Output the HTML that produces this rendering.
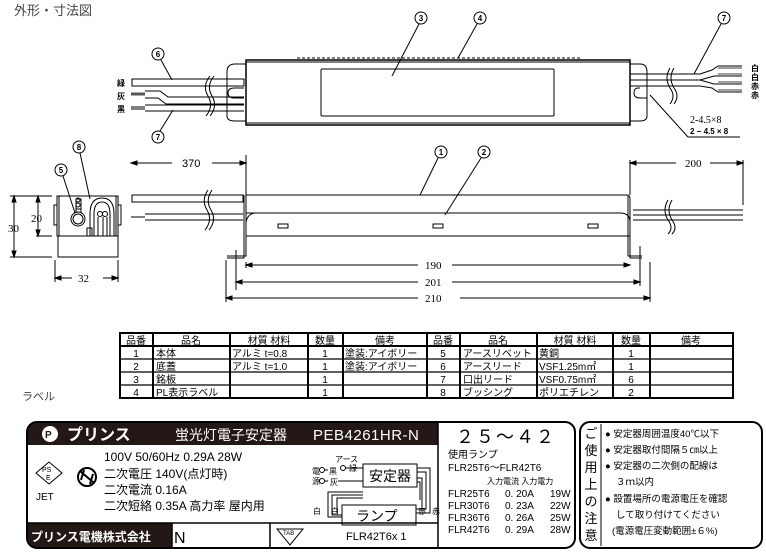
<!DOCTYPE html>
<html><head><meta charset="utf-8"><style>
body{margin:0;background:#fff;width:766px;height:553px;overflow:hidden;font-family:"Liberation Sans","Noto Sans CJK JP",sans-serif}
svg{position:absolute;left:0;top:0}
text{font-family:"Liberation Sans","Noto Sans CJK JP",sans-serif;fill:#000}
.s{font-family:"Liberation Serif","Noto Serif CJK SC",serif}
text.w{fill:#fff !important}
text.g{fill:#444 !important}
text.d{fill:#231815 !important}
</style></head><body>
<svg width="766" height="553" viewBox="0 0 766 553" fill="none" stroke="#000" stroke-width="1">
<text x="14" y="15" font-size="13" stroke="none" class="g">外形・寸法図</text>

<!-- TOP VIEW -->
<line x1="297" y1="58" x2="580" y2="58" stroke-dasharray="3,2"/>
<rect x="246" y="60" width="384" height="65" stroke-width="1.5"/>
<line x1="246" y1="62" x2="630" y2="62"/>
<line x1="246" y1="123" x2="630" y2="123"/>
<rect x="321" y="69" width="233" height="47" rx="1"/>
<path d="M246 64 L235 64 Q227 64 227 72 L227 116 Q227 121 235 121 L246 121"/>
<path d="M630 64 L640 64 Q647 64 647 72 L647 116 Q647 121 640 121 L630 121"/>
<rect x="132" y="79" width="112" height="7"/>
<path d="M244 88 L234 88 Q228 88 228 93 Q228 98 234 98 L244 98"/>
<path d="M131 93 L145 93 M131 94 L145 94 M131 95 L145 95" stroke="#555"/>
<path d="M145 91 L160 91 L168 97 L244 97 M145 98 L158 98 L166 104 L244 104"/>
<path d="M131 107 L145 107 M131 109 L145 109"/>
<path d="M145 105 L244 105 M145 111 L244 111"/>
<path d="M210 76 Q202 86 208 96 Q214 106 206 116 M214 76 Q206 86 212 96 Q218 106 210 116"/>
<!-- right wires -->
<path d="M630 74 L700 74 M630 80 L700 80 M630 86 L700 86"/>
<path d="M640 88 L638 88 Q634 88 634 93 Q634 98 640 98 L647 98"/>
<path d="M670 68 Q664 78 670 88 Q676 96 670 104 M674 68 Q668 78 674 88 Q680 96 674 104"/>
<path d="M700 74 L712 70 L718 66 L742 66 M700 80 L714 76 L742 76 M700 80 L714 84 L742 84 M700 86 L712 88 L718 92 L742 92"/>
<path d="M718 68 L742 68 M718 74 L742 74 M718 82 L742 82 M718 90 L742 90" stroke-width="0.7"/>
<text x="751" y="71" font-size="8" stroke="none" font-weight="bold">白</text>
<text x="751" y="80" font-size="8" stroke="none" font-weight="bold">白</text>
<text x="751" y="89" font-size="8" stroke="none" font-weight="bold">赤</text>
<text x="751" y="98" font-size="8" stroke="none" font-weight="bold">赤</text>
<text x="117" y="86" font-size="8" stroke="none" font-weight="bold">緑</text>
<text x="117" y="99" font-size="8" stroke="none" font-weight="bold">灰</text>
<text x="117" y="112" font-size="8" stroke="none" font-weight="bold">黒</text>
<text x="690" y="123" font-size="10" stroke="none" class="s">2-4.5×8</text>
<text x="690" y="134" font-size="8" stroke="none" font-weight="bold">2 − 4.5 × 8</text>
<path d="M740 137 L688 137 L650 95"/>
<!-- callouts -->
<g stroke-width="1">
<circle cx="421" cy="18" r="6"/><line x1="419" y1="24" x2="392" y2="76"/>
<circle cx="480" cy="18" r="6"/><line x1="477" y1="24" x2="458" y2="58"/>
<circle cx="724" cy="18" r="6"/><line x1="721" y1="24" x2="694" y2="74"/>
<circle cx="158" cy="54" r="6"/><line x1="161" y1="60" x2="172" y2="80"/>
<circle cx="158" cy="137" r="6"/><line x1="160" y1="131" x2="173" y2="110"/>
<circle cx="79" cy="147" r="6"/><line x1="80" y1="153" x2="90" y2="199"/>
<circle cx="61" cy="170" r="6"/><line x1="63" y1="176" x2="75" y2="213"/>
<circle cx="441" cy="152" r="6"/><line x1="438" y1="158" x2="420" y2="195"/>
<circle cx="484" cy="152" r="6"/><line x1="481" y1="158" x2="445" y2="215"/>
</g>
<g font-size="8" font-weight="bold" stroke="none" text-anchor="middle">
<text x="421" y="21">3</text><text x="480" y="21">4</text><text x="724" y="21">7</text>
<text x="158" y="57">6</text><text x="158" y="140">7</text><text x="79" y="150">8</text>
<text x="61" y="173">5</text><text x="441" y="155">1</text><text x="484" y="155">2</text>
</g>

<!-- SIDE VIEW -->
<path d="M131 163 L172 163 M212 163 L246 163 M246 155 L246 195"/>
<path d="M131 163 l6 -2 v4 z M246 163 l-6 -2 v4 z" fill="#000"/>
<text x="182" y="167" font-size="11" stroke="none">370</text>
<path d="M630 163 L676 163 M710 163 L743 163 M630 160 L630 195 M743 160 L743 205"/>
<path d="M630 163 l6 -2 v4 z M743 163 l-6 -2 v4 z" fill="#000"/>
<text x="685" y="167" font-size="11" stroke="none" class="s">200</text>
<path d="M246 195 L627 195 Q630 195 630 199 L630 258 L642 258 M246 213 L620 213 Q630 213 630 222 M246 236 L630 236"/>
<path d="M256 213 Q248 213 246 222"/>
<path d="M244 195 L244 258 L227 258 M246 195 L246 256 L227 256"/>
<path d="M628 196 L628 256 L642 256"/>
<rect x="278" y="224" width="10" height="4"/><rect x="433" y="224" width="10" height="4"/><rect x="588" y="224" width="10" height="4"/>
<rect x="132" y="195" width="111" height="7"/>
<path d="M131 217 L145 217 M145 214 L243 214 M145 220 L243 220"/>
<path d="M633 210 L743 210 M633 215 L743 215 M633 220 L743 220"/>
<path d="M208 190 Q201 200 207 210 Q213 220 205 230 M212 190 Q205 200 211 210 Q217 220 209 230"/>
<path d="M668 200 Q662 210 668 220 Q674 228 668 234 M672 200 Q666 210 672 220 Q678 228 672 234"/>
<!-- dims -->
<path d="M246 265 L418 265 M452 265 L625 265 M236 282 L418 282 M452 282 L637 282 M226 298 L418 298 M460 298 L648 298"/>
<path d="M236 250 L236 290 M226 260 L226 302 M640 246 L640 286 M650 262 L650 302 M246 262 L246 268"/>
<path d="M630 265 l-6 -2 v4 z M640 282 l-6 -2 v4 z M650 298 l-6 -2 v4 z M246 265 l6 -2 v4 z M236 282 l6 -2 v4 z M226 298 l6 -2 v4 z" fill="#000"/>
<text x="425" y="269" font-size="11" stroke="none" class="s">190</text>
<text x="425" y="286" font-size="11" stroke="none" class="s">201</text>
<text x="425" y="302" font-size="11" stroke="none" class="s">210</text>

<!-- END VIEW -->
<rect x="57" y="196" width="61" height="40"/>
<rect x="58" y="236" width="60" height="21"/>
<path d="M59 196 L59 236 M116 196 L116 236"/>
<rect x="54" y="205" width="3" height="20"/><rect x="118" y="205" width="3" height="20"/>
<path d="M87 236 L87 228 L92 228 L92 236"/>
<rect x="76" y="199" width="5" height="10"/>
<circle cx="78" cy="200" r="2"/><circle cx="78" cy="205" r="2"/>
<path d="M76 209 L76 213 M81 209 L81 213"/>
<circle cx="78" cy="219" r="7"/><circle cx="78" cy="219" r="5"/>
<path d="M90 236 L90 214 Q90 198 102 198 Q114 198 114 214 L114 236"/>
<path d="M94 236 L94 214 Q94 202 102 202 Q110 202 110 214 L110 236"/>
<circle cx="100" cy="214" r="2.5"/><circle cx="105" cy="214" r="2.5"/>
<path d="M98 217 L98 236 M103 217 L103 236 M107 217 L107 236"/>
<path d="M14 196 L14 257 M10 196 L52 196 M10 257 L52 257 M38 196 L38 236 M36 236 L52 236"/>
<path d="M14 196 l-2 6 h4 z M14 257 l-2 -6 h4 z M38 196 l-2 6 h4 z M38 236 l-2 -6 h4 z" fill="#000"/>
<text x="8" y="232" font-size="11" stroke="none" class="s">30</text>
<text x="31" y="222" font-size="11" stroke="none" class="s">20</text>
<path d="M55 260 L55 282 M118 260 L118 282 M55 278 L72 278 M103 278 L118 278"/>
<path d="M55 278 l6 -2 v4 z M118 278 l-6 -2 v4 z" fill="#000"/>
<text x="78" y="282" font-size="11" stroke="none" class="s">32</text>

<!-- TABLE -->
<g stroke-width="2">
<rect x="120" y="333" width="613" height="65"/>
<path d="M120 346 L733 346 M153 333 V398 M230 333 V398 M308 333 V398 M343 333 V398 M427 333 V398 M460 333 V398 M537 333 V398 M613 333 V398 M650 333 V398"/>
</g>
<path d="M120 359 L733 359 M120 372 L733 372 M120 385 L733 385" stroke-width="1.3"/>
<g font-size="10" stroke="none">
<g text-anchor="middle">
<text x="136" y="344">品番</text><text x="191" y="344">品名</text><text x="269" y="344">材質 材料</text><text x="325" y="344">数量</text><text x="385" y="344">備考</text>
<text x="443" y="344">品番</text><text x="498" y="344">品名</text><text x="575" y="344">材質 材料</text><text x="631" y="344">数量</text><text x="691" y="344">備考</text>
<text x="136" y="357">1</text><text x="136" y="370">2</text><text x="136" y="383">3</text><text x="136" y="396">4</text>
<text x="325" y="357">1</text><text x="325" y="370">1</text><text x="325" y="383">1</text><text x="325" y="396">1</text>
<text x="443" y="357">5</text><text x="443" y="370">6</text><text x="443" y="383">7</text><text x="443" y="396">8</text>
<text x="631" y="357">1</text><text x="631" y="370">1</text><text x="631" y="383">6</text><text x="631" y="396">2</text>
</g>
<text x="156" y="357">本体</text><text x="156" y="370">底蓋</text><text x="156" y="383">銘板</text><text x="156" y="396">PL表示ラベル</text>
<text x="232" y="357">アルミ t=0.8</text><text x="232" y="370">アルミ t=1.0</text>
<text x="345" y="357">塗装:アイボリー</text><text x="345" y="370">塗装:アイボリー</text>
<text x="463" y="357">アースリベット</text><text x="463" y="370">アースリード</text><text x="463" y="383">口出リード</text><text x="463" y="396">ブッシング</text>
<text x="539" y="357">黄銅</text><text x="539" y="370">VSF1.25m㎡</text><text x="539" y="383">VSF0.75m㎡</text><text x="539" y="396">ポリエチレン</text>
</g>
<text x="22" y="400" font-size="11" stroke="none" class="g">ラベル</text>

<!-- LABEL -->
<path d="M37 422 L438 422 L438 445 L27 445 L27 432 Q27 422 37 422 Z" fill="#231815" stroke="none"/>
<path d="M27 523 L172 523 L172 548 L37 548 Q27 548 27 538 Z" fill="#231815" stroke="none"/>
<rect x="27" y="422" width="548" height="126" rx="10" stroke-width="2"/>
<path d="M438 422 V548 M27 523 H438 M172 523 V548 M270 523 V548" stroke-width="1.5"/>
<circle cx="50" cy="434" r="8" fill="#fff" stroke="none"/>
<text x="45" y="438" font-size="10" font-weight="bold" class="d" stroke="none">P</text>
<text x="67" y="440" font-size="16" font-weight="bold" class="w" stroke="none">プリンス</text>
<text x="175" y="440" font-size="14" class="w" stroke="none">蛍光灯電子安定器</text>
<text x="313" y="440" font-size="15" class="w" stroke="none" letter-spacing="0.5">PEB4261HR-N</text>
<text x="31" y="541" font-size="12" font-weight="bold" class="w" stroke="none">プリンス電機株式会社</text>
<text x="174" y="543" font-size="16" stroke="none">N</text>
<path d="M277 529 L303 529 L290 545 Z"/>
<text x="283" y="535" font-size="6" stroke="none">TAB</text>
<g font-size="12" stroke="none">
<text x="104" y="461">100V 50/60Hz 0.29A 28W</text>
<text x="104" y="478">二次電圧 140V(点灯時)</text>
<text x="104" y="494">二次電流 0.16A</text>
<text x="104" y="510">二次短絡 0.35A  高力率 屋内用</text>
</g>
<path d="M36 473 L49 462 L62 473 L49 484 Z"/>
<text x="42" y="472" font-size="7" stroke="none">PS</text><text x="46" y="480" font-size="7" stroke="none">E</text>
<text x="36" y="500" font-size="10" stroke="none">JET</text>
<circle cx="87" cy="477" r="9" stroke-width="2"/>
<path d="M80 471 L94 483 M81 480 L84 470 M90 484 L93 474" stroke-width="2"/>
<!-- wiring -->
<g font-size="8" stroke="none">
<text x="335" y="462">アース</text><text x="312" y="474">電</text><text x="312" y="484">源</text>
<text x="329" y="474">黒</text><text x="349" y="471">緑</text><text x="330" y="485">灰</text>
<text x="313" y="514">白</text><text x="331" y="514">白</text><text x="418" y="514">赤</text><text x="432" y="514">赤</text>
</g>
<circle cx="322" cy="470" r="2.5"/><circle cx="322" cy="481" r="2.5"/><circle cx="343" cy="468" r="2.5"/>
<path d="M325 470 H328 M325 481 H328 M338 481 H363 M346 468 H363"/>
<rect x="363" y="464" width="54" height="23"/>
<text x="369" y="481" font-size="14" stroke="none">安定器</text>
<path d="M417 468 H430 V513 H417 M417 472 H426 V509 H417 M417 478 H422 V505 M417 482 H420 V500"/>
<path d="M328 513 V492 H363 M332 513 V495 H363 M337 513 V498 H363"/>
<rect x="342" y="505" width="74" height="20"/>
<path d="M328 513 V517 H342 M332 513 V515 H342 M416 509 H422 V505 M416 513 H426"/>
<text x="356" y="521" font-size="14" stroke="none">ランプ</text>
<text x="346" y="540" font-size="11" stroke="none">FLR42T6x 1</text>
<!-- right of label -->
<g stroke="none">
<text x="456" y="443" font-size="18" letter-spacing="2">２５～４２</text>
<text x="448" y="458" font-size="10">使用ランプ</text>
<text x="448" y="471" font-size="10">FLR25T6～FLR42T6</text>
<text x="487" y="484" font-size="8">入力電流 入力電力</text>
<g font-size="10">
<text x="448" y="497">FLR25T6</text><text x="505" y="497">0. 20A</text><text x="550" y="497">19W</text>
<text x="448" y="509">FLR30T6</text><text x="505" y="509">0. 23A</text><text x="550" y="509">22W</text>
<text x="448" y="521">FLR36T6</text><text x="505" y="521">0. 26A</text><text x="550" y="521">25W</text>
<text x="448" y="533">FLR42T6</text><text x="505" y="533">0. 29A</text><text x="550" y="533">28W</text>
</g>
</g>
<rect x="580" y="422" width="182" height="126" rx="10" stroke-width="2"/>
<line x1="601" y1="424" x2="601" y2="546"/>
<g font-size="13" stroke="none" text-anchor="middle">
<text x="591" y="438">ご</text><text x="591" y="455">使</text><text x="591" y="472">用</text><text x="591" y="489">上</text><text x="591" y="506">の</text><text x="591" y="523">注</text><text x="591" y="540">意</text>
</g>
<g font-size="9.5" stroke="none">
<text x="605" y="437">● 安定器周囲温度40℃以下</text>
<text x="605" y="453">● 安定器取付間隔５㎝以上</text>
<text x="605" y="469">● 安定器の二次側の配線は</text>
<text x="616" y="485">３ｍ以内</text>
<text x="605" y="502">● 設置場所の電源電圧を確認</text>
<text x="616" y="518">して取り付けてください</text>
<text x="612" y="534">(電源電圧変動範囲±６%)</text>
</g>
</svg>
</body></html>
